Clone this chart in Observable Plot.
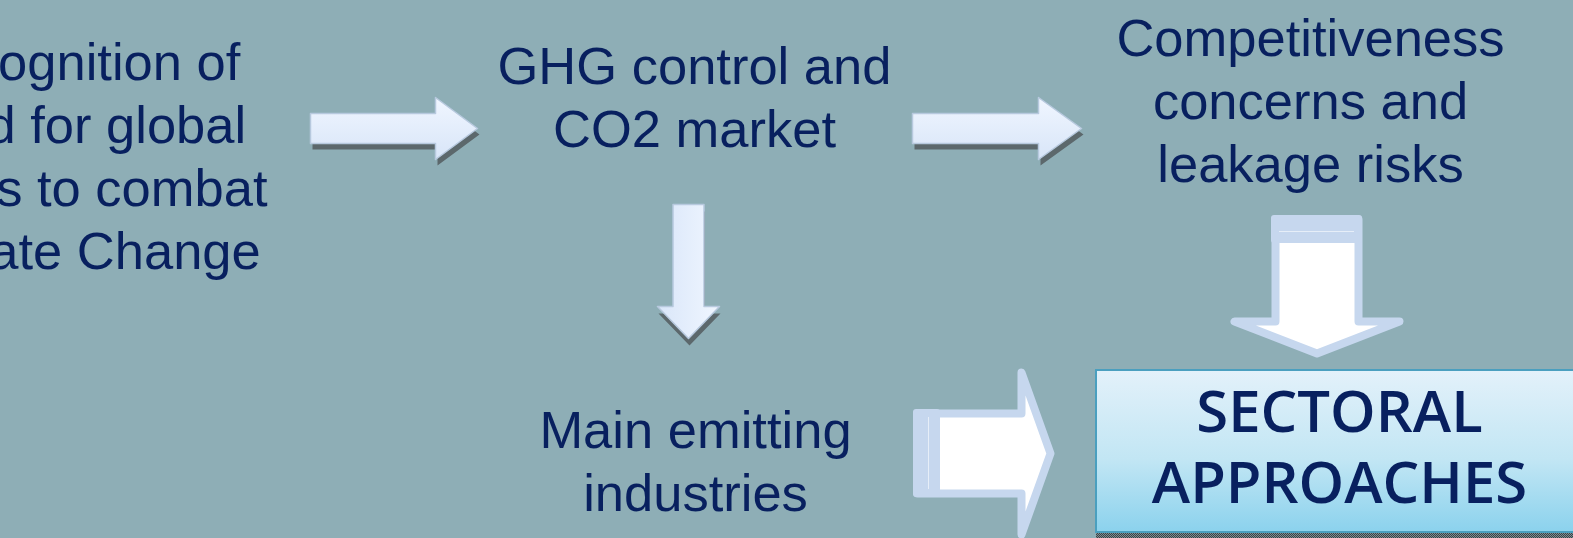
<!DOCTYPE html>
<html><head><meta charset="utf-8">
<script src="https://cdn.jsdelivr.net/npm/d3@7"></script>
<script src="https://cdn.jsdelivr.net/npm/@observablehq/plot@0.6"></script>
<style>html,body{margin:0;padding:0;background:#8eaeb6;overflow:hidden}svg{display:block}</style>
</head><body><div id="chart"></div>
<script>
const W = 1573, H = 538;

// Text blocks (label lines joined with \n), centre x and first baseline
const blockLabels = [
  "Recognition of\nneed for global\nefforts to combat\nClimate Change",
  "GHG control and\nCO2 market",
  "Competitiveness\nconcerns and\nleakage risks",
  "Main emitting\nindustries"
];
const blockX = [72, 694, 1310, 695];
const blockBaseline = [79, 83, 55, 447];
const lineGap = 63.3;

// Result box
const boxLines = ["SECTORAL", "APPROACHES"];
const boxCenterX = 1339;
const boxBaselines = [431, 502];
const boxEdges = {x1: 1096, x2: 1580, y1: 370, y2: 532};

// Small gradient arrows: right-pointing (tail, headBase, tip, centre, shaftHalf, headHalf)
const rightArrows = [
  {id: "r1", tail: 310, headBase: 435, tip: 477, c: 128, sh: 15, hh: 31},
  {id: "r2", tail: 912, headBase: 1038, tip: 1081, c: 128, sh: 15, hh: 31}
];
// down-pointing (centre x, top, headBase, tip, shaftHalf, headHalf)
const downArrows = [
  {id: "d1", cx: 688, top: 204, headBase: 306, tip: 338, sh: 15.5, hh: 31}
];
// Big outlined arrows
const bigDown = {id: "bd", cx: 1316.5, top: 219, headBase: 321, tip: 353, sh: 41.5, hh: 82.5, band: [215, 243], bandLine: 231};
const bigRight = {id: "br", c: 453, tail: 917, headBase: 1021, tip: 1050, sh: 40, hh: 81, band: [913, 940], bandLine: 928};

function rightPoly(a) {
  return [[a.tail, a.c - a.sh], [a.headBase, a.c - a.sh], [a.headBase, a.c - a.hh], [a.tip, a.c],
          [a.headBase, a.c + a.hh], [a.headBase, a.c + a.sh], [a.tail, a.c + a.sh]]
    .map(([x, y]) => ({id: a.id, x, y}));
}
function downPoly(a) {
  return [[a.cx - a.sh, a.top], [a.cx + a.sh, a.top], [a.cx + a.sh, a.headBase], [a.cx + a.hh, a.headBase],
          [a.cx, a.tip], [a.cx - a.hh, a.headBase], [a.cx - a.sh, a.headBase]]
    .map(([x, y]) => ({id: a.id, x, y}));
}
const shift = (pts, dx, dy) => pts.map(p => ({...p, x: p.x + dx, y: p.y + dy}));

const rPts = rightArrows.flatMap(rightPoly);
const dPts = downArrows.flatMap(downPoly);
const bdPts = downPoly(bigDown);
const brPts = rightPoly(bigRight);

const textRows = blockLabels.flatMap((t, i) => t.split("\n").map((line, j) => ({
  text: line, x: blockX[i], y: blockBaseline[i] + j * lineGap
})));
const boxRows = boxLines.map((t, i) => ({text: t, x: boxCenterX, y: boxBaselines[i]}));

const textColor = "#08205f";
const bigStroke = "#c6d7ee";

const plot = Plot.plot({
  width: W, height: H, margin: 0,
  style: {background: "#8eaeb6", overflow: "hidden"},
  x: {domain: [0, W], axis: null},
  y: {domain: [0, H], reverse: true, axis: null},
  marks: [
    // shadows of small arrows
    Plot.line(shift(rPts, 2, 6), {x: "x", y: "y", z: "id", curve: "linear-closed", fill: "url(#shadowPat)", stroke: "none"}),
    Plot.line(shift(dPts, 1, 7), {x: "x", y: "y", z: "id", curve: "linear-closed", fill: "url(#shadowPat)", stroke: "none"}),
    // small arrows
    Plot.line(rPts, {x: "x", y: "y", z: "id", curve: "linear-closed", fill: "url(#gH)", stroke: "#b7c9de", strokeWidth: 1.5}),
    Plot.line(dPts, {x: "x", y: "y", z: "id", curve: "linear-closed", fill: "url(#gV)", stroke: "#b7c9de", strokeWidth: 1.5}),
    // big outlined arrows
    Plot.line(bdPts, {x: "x", y: "y", curve: "linear-closed", fill: "white", stroke: bigStroke, strokeWidth: 8, strokeLinejoin: "round"}),
    Plot.line(brPts, {x: "x", y: "y", curve: "linear-closed", fill: "white", stroke: bigStroke, strokeWidth: 8, strokeLinejoin: "round"}),
    Plot.rect([bigDown], {x1: d => d.cx - d.sh - 4, x2: d => d.cx + d.sh + 4, y1: d => d.band[0], y2: d => d.band[1], fill: bigStroke, rx: 3}),
    Plot.ruleY([bigDown], {y: "bandLine", x1: d => d.cx - d.sh + 4, x2: d => d.cx + d.sh - 4, stroke: "#e6eef8", strokeWidth: 1}),
    Plot.rect([bigRight], {x1: d => d.band[0], x2: d => d.band[1], y1: d => d.c - d.sh - 4, y2: d => d.c + d.sh + 4, fill: bigStroke, rx: 3}),
    Plot.ruleX([bigRight], {x: "bandLine", y1: d => d.c - d.sh + 4, y2: d => d.c + d.sh - 4, stroke: "#e6eef8", strokeWidth: 1}),
    // result box
    Plot.rect([boxEdges], {x1: "x1", x2: "x2", y1: "y2", y2: d => H, fill: "url(#shadowPat)"}),
    Plot.rect([boxEdges], {x1: "x1", x2: "x2", y1: "y1", y2: "y2", fill: "url(#gBox)", stroke: "#4a9fbf", strokeWidth: 2}),
    Plot.text(boxRows, {x: "x", y: "y", text: "text", lineAnchor: "bottom", fontSize: 58, fontWeight: 600, fontFamily: "'Open Sans', 'Noto Sans', sans-serif", fill: textColor}),
    // text blocks
    Plot.text(textRows, {x: "x", y: "y", text: "text", lineAnchor: "bottom", fontSize: 52.5, fontFamily: "'Liberation Sans', Arial, sans-serif", fill: textColor})
  ]
});

const defs = d3.select(plot).insert("defs", ":first-child");
const gH = defs.append("linearGradient").attr("id", "gH").attr("x1", 0).attr("y1", 0).attr("x2", 0).attr("y2", 1);
gH.append("stop").attr("offset", "0%").attr("stop-color", "#f0f6ff");
gH.append("stop").attr("offset", "100%").attr("stop-color", "#d8e5f8");
const gV = defs.append("linearGradient").attr("id", "gV").attr("x1", 0).attr("y1", 0).attr("x2", 1).attr("y2", 0);
gV.append("stop").attr("offset", "0%").attr("stop-color", "#d9e6f9");
gV.append("stop").attr("offset", "100%").attr("stop-color", "#f0f6ff");
const gB = defs.append("linearGradient").attr("id", "gBox").attr("x1", 0).attr("y1", 0).attr("x2", 0).attr("y2", 1);
gB.append("stop").attr("offset", "0%").attr("stop-color", "#e3f1fa");
gB.append("stop").attr("offset", "55%").attr("stop-color", "#c2e6f4");
gB.append("stop").attr("offset", "100%").attr("stop-color", "#8bd2ed");
const pat = defs.append("pattern").attr("id", "shadowPat").attr("patternUnits", "userSpaceOnUse").attr("width", 2).attr("height", 2);
pat.append("rect").attr("width", 2).attr("height", 2).attr("fill", "#7d8b90");
pat.append("rect").attr("width", 1).attr("height", 1).attr("fill", "#3a4448");
pat.append("rect").attr("x", 1).attr("y", 1).attr("width", 1).attr("height", 1).attr("fill", "#3a4448");

document.getElementById("chart").appendChild(plot);
</script>
</body></html>
